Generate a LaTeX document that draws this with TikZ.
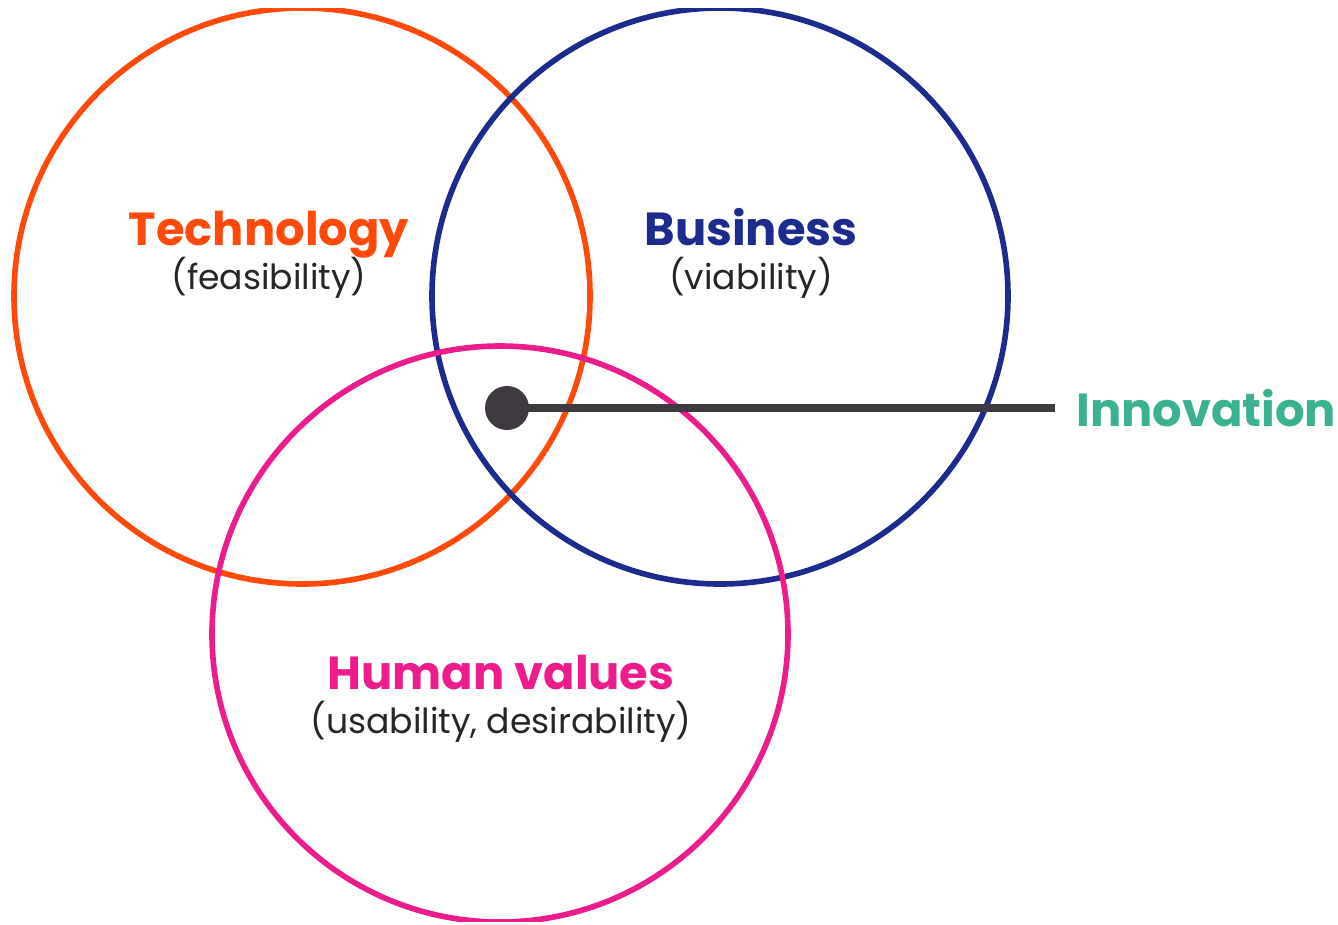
\documentclass[tikz,border=0pt]{standalone}
\usepackage{fontspec}
\setmainfont{Poppins}
\usepackage{tikz}
\usetikzlibrary{positioning,calc}

\definecolor{techcol}{HTML}{FF4A0A}
\definecolor{buscol}{HTML}{1D2A8E}
\definecolor{humcol}{HTML}{EC1C8C}
\definecolor{innocol}{HTML}{3AB191}
\definecolor{dotcol}{HTML}{3E3A40}

\begin{document}
\begin{tikzpicture}[x=0.02cm,y=-0.02cm,
		ring/.style={circle,draw,line width=3.2pt,minimum size=576*0.02cm,inner sep=0pt},
		title/.style={font=\bfseries\fontsize{26.4}{30}\selectfont,inner sep=0pt,anchor=base},
		sub/.style={font=\fontsize{19.7}{23}\selectfont,text=black!85,inner sep=0pt},
	]
		\useasboundingbox (0,0) rectangle (1338,924);
		\clip (0,8) rectangle (1338,921);

		% the three circles
		\node[ring,techcol] (tech) at (302,296) {};
		\node[ring,buscol]  (bus)  at (720,296) {};
		\node[ring,humcol]  (hum)  at (500,634) {};

		% labels
		\node[title,text=techcol] (techt) at (269,245) {Technology};
		\node[sub,below=25.5pt of techt.base,anchor=base] (techs) {(feasibility)};
		\node[title,text=buscol] (bust) at (751,245) {Business};
		\node[sub,below=25.5pt of bust.base,anchor=base] (buss) {(viability)};
		\node[title,text=humcol] (humt) at (501,689) {Human values};
		\node[sub,below=25.5pt of humt.base,anchor=base] (hums) {(usability, desirability)};

		% pointer
		\node[circle,fill=dotcol,minimum size=44*0.02cm,inner sep=0pt] (dot) at (507,408) {};
		\node[title,text=innocol,anchor=west,inner xsep=12pt] (innov) at (1055,408) {Innovation};
		\path[draw=dotcol,line width=4.5pt]
			(dot.center) edge (innov.west)
		;
	\end{tikzpicture}
\end{document}
